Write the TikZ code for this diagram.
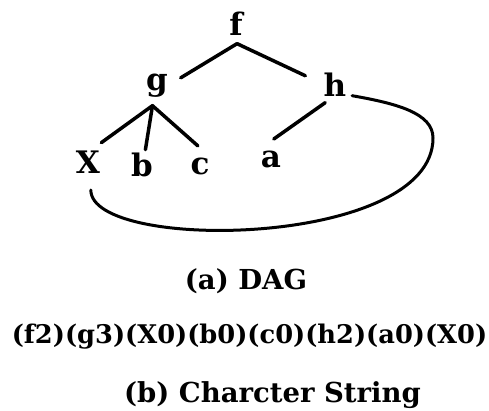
\documentclass[tikz,border=0pt]{standalone}
\usepackage{fontspec}
\setmainfont{DejaVu Serif}
\usepackage{tikz}

\begin{document}
\begin{tikzpicture}[
        x=1pt, y=1pt,
        letter/.style={circle, inner sep=0pt, minimum size=40pt, font=\fontsize{31}{36}\selectfont\bfseries},
        caption/.style={inner sep=0pt, anchor=base, font=\fontsize{27.5}{33}\selectfont\bfseries},
        branch/.style={line width=3.5pt, line cap=round},
        link/.style={line width=3pt, line cap=round}
    ]
    \useasboundingbox (0,0) rectangle (489,411);

    % the DAG
    \node (f) [letter] at (236,387.5) {f};
    \node (g) [letter] at (157,325) {g};
    \node (h) [letter] at (335,326) {h};
    \node (X) [letter] at (88,248.5) {X};
    \node (b) [letter] at (142,246.5) {b};
    \node (c) [letter] at (200,245) {c};
    \node (a) [letter] at (271,252) {a};
    \coordinate (loop) at (433,273);

    \draw [branch, shorten >=5pt] (f.-87) -- (g.16);
    \draw [branch, shorten >=11pt] (f.-87) -- (h.167);
    \draw [branch, shorten >=4pt] (g.-103) -- (X.60);
    \draw [branch, shorten >=-5pt] (g.-103) -- (b.78);
    \draw [branch] (g.-103) -- (c.96);
    \draw [branch] (h.-119) -- (a.82);
    \draw [link, shorten >=7.5pt] (h.-32) to[out=-10, in=90, out distance=45pt, in distance=25pt] (loop)
        to[out=-90, in=-90, out distance=110pt, in distance=70pt] (X.-82);

    % captions
    \node (dag) [caption] at (246,121) {(a) DAG};
    \node (str) [caption, font=\fontsize{25.7}{31}\selectfont\bfseries] at (249.5,67) {(f2)(g3)(X0)(b0)(c0)(h2)(a0)(X0)};
    \node (chr) [caption] at (272.5,8) {(b) Charcter String};

\end{tikzpicture}
\end{document}
